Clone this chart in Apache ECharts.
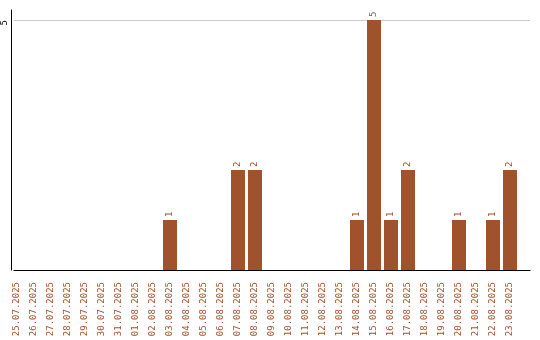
<!DOCTYPE html>
<html>
<head>
<meta charset="utf-8">
<script src="https://cdn.jsdelivr.net/npm/echarts@6/dist/echarts.min.js"></script>
<style>html,body{margin:0;padding:0;background:#fff}#c{width:540px;height:340px}</style>
</head>
<body>
<div id="c"></div>
<script>
var categories = ['25.07.2025','26.07.2025','27.07.2025','28.07.2025','29.07.2025','30.07.2025','31.07.2025','01.08.2025','02.08.2025','03.08.2025','04.08.2025','05.08.2025','06.08.2025','07.08.2025','08.08.2025','09.08.2025','10.08.2025','11.08.2025','12.08.2025','13.08.2025','14.08.2025','15.08.2025','16.08.2025','17.08.2025','18.08.2025','19.08.2025','20.08.2025','21.08.2025','22.08.2025','23.08.2025'];
var counts = [0,0,0,0,0,0,0,0,0,1,0,0,0,2,2,0,0,0,0,0,1,5,1,2,0,0,1,0,1,2];
var yTicks = [0, 5];

var color = '#A0522D';
var font = 'DejaVu Sans Mono';
var chart = echarts.init(document.getElementById('c'), null, {renderer: 'canvas'});
chart.setOption({
  animation: false,
  backgroundColor: '#fff',
  grid: [
    {left: 8.5, width: 510, top: 20, bottom: 70},
    {left: 11, right: 10, top: 20, bottom: 70},
    {left: 11, right: 10, top: 10, bottom: 70}
  ],
  xAxis: [
    {type: 'category', gridIndex: 0, data: categories, boundaryGap: true,
     axisLine: {show: false}, axisTick: {show: false},
     axisLabel: {interval: 0, rotate: 90, color: color, fontFamily: font, fontSize: 9, margin: 12}},
    {type: 'value', gridIndex: 1, min: 0, max: 1, axisLine: {show: true, lineStyle: {color: '#000', width: 1}},
     axisTick: {show: false}, axisLabel: {show: false}, splitLine: {show: false}},
    {type: 'value', gridIndex: 2, min: 0, max: 1, show: false}
  ],
  yAxis: [
    {type: 'value', gridIndex: 0, min: yTicks[0], max: yTicks[1], show: false, splitLine: {show: false}},
    {type: 'value', gridIndex: 1, min: yTicks[0], max: yTicks[1], interval: yTicks[1] - yTicks[0],
     axisLine: {show: false}, axisTick: {show: false},
     axisLabel: {rotate: 90, align: 'right', verticalAlign: 'bottom', color: '#000', fontFamily: font, fontSize: 9, margin: 5,
       formatter: function (v) { return v === 0 ? '' : String(v); }},
     splitLine: {show: true, lineStyle: {color: '#ccc', width: 1}}},
    {type: 'value', gridIndex: 2, min: 0, max: 1,
     axisLine: {show: true, lineStyle: {color: '#000', width: 1}},
     axisTick: {show: false}, axisLabel: {show: false}, splitLine: {show: false}}
  ],
  series: [{
    type: 'bar', xAxisIndex: 0, yAxisIndex: 0, data: counts, barWidth: 14,
    itemStyle: {color: color},
    label: {show: true, position: 'top', rotate: 90, align: 'left', verticalAlign: 'middle', distance: 3,
      color: color, fontFamily: font, fontSize: 9,
      formatter: function (p) { return p.value ? String(p.value) : ''; }}
  }]
});
</script>
</body>
</html>
